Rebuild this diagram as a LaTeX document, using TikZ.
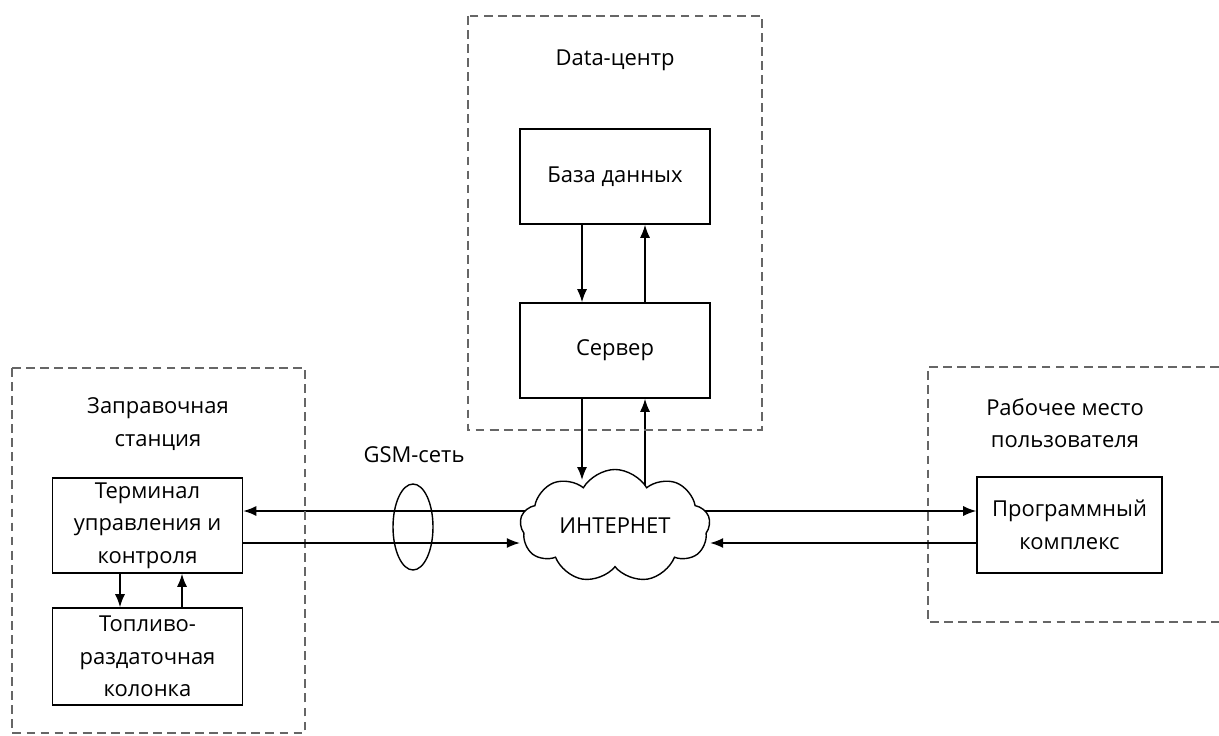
\documentclass[tikz,border=0pt]{standalone}
\usepackage{fontspec}
\setmainfont{Open Sans}
\usepackage{tikz}
\usetikzlibrary{arrows.meta, calc, shapes.geometric, shapes.symbols, backgrounds}
\tikzset{
  blk/.style={draw, line width=0.9pt, align=center, minimum width=3.8cm, minimum height=1.9cm, inner sep=1pt},
  zone/.style={line width=0.7pt, dash pattern=on 5pt off 3pt, gray!80!black},
  lnk/.style={line width=0.8pt, -{Latex[length=2.6mm, width=2mm]}},
  txt/.style={align=center, font=\fontsize{12.5}{18.5}\selectfont}
}
\begin{document}
\begin{tikzpicture}[x=0.02cm, y=-0.02cm, every node/.style={font=\fontsize{12.5}{18.5}\selectfont}]
\useasboundingbox (0,0) rectangle (1219,736);
% ===== dashed zones =====
\draw[zone] (468,16) rectangle (762,430);
\draw[zone] (12,368) rectangle (305,733);
\draw[zone] (1219,367) -- (928,367) -- (928,622) -- (1219,622);
\node[txt] (dcLbl) at (615,60) {Data-центр};
\node[txt] (stLbl) at (158,424) {Заправочная\\станция};
\node[txt] (wsLbl) at (1065,423) {Рабочее место\\пользователя};
% ===== blocks =====
\node[blk] (db) at (615,176.5) {База данных};
\node[blk] (srv) at (615,350.5) {Сервер};
\node[blk, minimum height=1.9cm] (term) at (147.5,525.5) {Терминал\\управления и\\контроля};
\node[blk, minimum height=1.94cm] (fuel) at (147.5,656.5) {Топливо-\\раздаточная\\колонка};
\node[blk, minimum width=3.7cm, minimum height=1.92cm] (prog) at (1069.5,525) {Программный\\комплекс};
\node[draw, fill=white, line width=0.8pt, cloud, cloud puffs=9, cloud puff arc=120, aspect=1.8,
  minimum width=3.8cm, minimum height=2.16cm, inner sep=0pt] (inet) at (615,526) {ИНТЕРНЕТ};
\node[draw, ellipse, line width=0.8pt, minimum width=0.8cm, minimum height=1.72cm, inner sep=0pt] (gsm) at (413,527) {};
\node[txt] (gsmLbl) at (414,455) {GSM-сеть};
% free ends on the cloud border
\coordinate (yU) at (0,511);
\coordinate (yD) at (0,543);
\coordinate (inTop) at (582,480);
% ===== data centre links =====
\draw[lnk] ($(db.south)+(-33,0)$) -- ($(srv.north)+(-33,0)$);
\draw[lnk] ($(srv.north)+(30,0)$) -- ($(db.south)+(30,0)$);
\draw[lnk] ($(srv.south)+(-33,0)$) -- (inTop);
% ===== station links =====
\draw[lnk] ($(term.south)+(-27.5,0)$) -- ($(fuel.north)+(-27.5,0)$);
\draw[lnk] ($(fuel.north)+(34.5,0)$) -- ($(term.south)+(34.5,0)$);
\draw[lnk] (term.east |- yD) -- (inet.west |- yD);
\draw[lnk] (prog.west |- yD) -- (inet.east |- yD);
% links leaving the cloud go under it
\begin{scope}[on background layer]
\draw[lnk] (inet.center -| srv.south) ++(30,0) -- ($(srv.south)+(30,0)$);
\draw[lnk] (inet.center |- yU) -- (term.east |- yU);
\draw[lnk] (inet.center |- yU) -- (prog.west |- yU);
\end{scope}
\end{tikzpicture}
\end{document}
